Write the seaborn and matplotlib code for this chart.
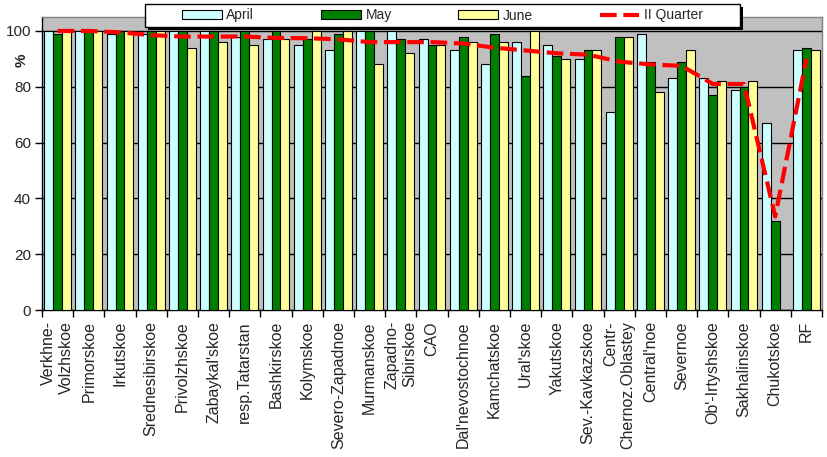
import numpy as np
import pandas as pd
import matplotlib
matplotlib.use('Agg')
import matplotlib.pyplot as plt
from matplotlib.patches import Rectangle
import seaborn as sns

regions = ["Verkhne-\nVolzhskoe", "Primorskoe", "Irkutskoe", "Srednesibirskoe",
           "Privolzhskoe", "Zabaykal'skoe", "resp.Tatarstan", "Bashkirskoe",
           "Kolymskoe", "Severo-Zapadnoe", "Murmanskoe", "Zapadno-\nSibirskoe",
           "CAO", "Dal'nevostochnoe", "Kamchatskoe", "Ural'skoe", "Yakutskoe",
           "Sev.-Kavkazskoe", "Centr-\nChernoz.Oblastey", "Central'noe",
           "Severnoe", "Ob'-Irtyshskoe", "Sakhalinskoe", "Chukotskoe", "RF"]

april = [100, 100, 99, 99, 100, 100, 98, 97, 95, 93, 100, 100, 97, 93, 88,
         96, 95, 90, 71, 99, 83, 83, 79, 67, 93]
may = [99, 100, 100, 100, 100, 100, 100, 100, 97, 99, 100, 97, 95, 98, 99,
       84, 91, 93, 98, 89, 89, 77, 80, 32, 94]
june = [100, 100, 100, 100, 94, 96, 95, 97, 100, 100, 88, 92, 95, 96, 96,
        100, 90, 93, 98, 78, 93, 82, 82, np.nan, 93]
quarter = [100, 100, 99.5, 98.5, 98, 98, 98, 97.5, 97.4, 97, 96, 96, 96,
           95.5, 94, 93, 92, 91.5, 89, 88, 87.5, 81, 81, 33.5, 90]

months = ["April", "May", "June"]
colors = ["#CCFFFF", "#008000", "#FFFF99"]

df = pd.DataFrame({
    "region": regions * 3,
    "month": [m for m in months for _ in regions],
    "value": april + may + june,
})

sns.set_style("white")
plt.rcParams['font.family'] = ['Liberation Sans', 'DejaVu Sans']

W, H = 828, 457
fig = plt.figure(figsize=(W / 100, H / 100), dpi=100)
ax = fig.add_axes([42 / W, 1 - 310 / H, 780 / W, 293 / H])
ax.set_facecolor("#C0C0C0")

sns.barplot(data=df, x="region", y="value", hue="month", hue_order=months,
            palette=colors, order=regions, width=0.86, gap=0, saturation=1,
            edgecolor="black", linewidth=0.8, ax=ax, zorder=3)
ax.plot(np.arange(len(regions)), quarter, color="#FF0000", lw=3,
        linestyle=(0, (4, 1.6)), label="II Quarter", zorder=4)

ax.set_ylim(0, 105)
ax.set_xlim(-0.5, len(regions) - 0.5)
ax.set_yticks([0, 20, 40, 60, 80, 100])
ax.yaxis.grid(True, color="black", linewidth=1)
ax.set_axisbelow(True)
ax.tick_params(axis="y", direction="out", length=5, width=1, color="black",
               labelsize=11, left=True, pad=3)
ax.set_xticks(np.arange(len(regions)))
ax.set_xticklabels(regions, rotation=90, fontsize=11.5, ma="right")
ax.set_xticks(np.arange(len(regions) + 1) - 0.5, minor=True)
ax.tick_params(axis="x", which="major", length=0, pad=8)
ax.tick_params(axis="x", which="minor", direction="out", length=5, width=1,
               color="black", bottom=True)
ax.set_xlabel("")
ax.set_ylabel("")
for s in ["left", "bottom"]:
    ax.spines[s].set_color("black")
    ax.spines[s].set_linewidth(1)
for s in ["top", "right"]:
    ax.spines[s].set_color("#808080")
    ax.spines[s].set_linewidth(1)

fig.text(22 / W, 1 - 60 / H, "%", rotation=90, fontsize=11,
         fontweight="bold", ha="center", va="center")

# legend box with shadow, like the Excel original
bx0, by0, bx1, by1 = 145, 4, 740, 27
fig.patches.append(Rectangle(((bx0 + 3) / W, 1 - (by1 + 3) / H),
                             (bx1 - bx0) / W, (by1 - by0) / H,
                             transform=fig.transFigure, facecolor="black",
                             edgecolor="none", zorder=3))
fig.patches.append(Rectangle((bx0 / W, 1 - by1 / H),
                             (bx1 - bx0) / W, (by1 - by0) / H,
                             transform=fig.transFigure, facecolor="white",
                             edgecolor="black", linewidth=1, zorder=4))

h, l = ax.get_legend_handles_labels()
ax.get_legend().remove()
leg = fig.legend(h, l, ncol=4, loc="center",
                 bbox_to_anchor=((bx0 + bx1) / 2 / W, 1 - (by0 + by1) / 2 / H),
                 bbox_transform=fig.transFigure, frameon=False, fontsize=10,
                 handlelength=2.85, handleheight=0.6, handletextpad=0.35,
                 columnspacing=4.8, borderpad=0, borderaxespad=0)
leg.set_zorder(5)

fig.savefig("out.png", dpi=100, facecolor="white")
